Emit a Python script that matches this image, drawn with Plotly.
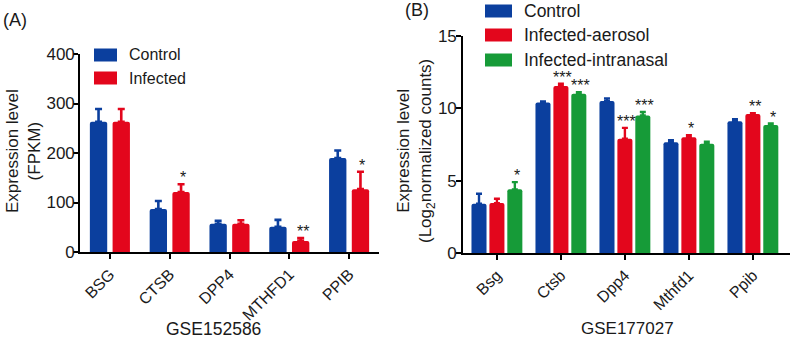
import plotly.graph_objects as go

W, H = 790, 339

# ---------------- data ----------------
genes_a = ["BSG", "CTSB", "DPP4", "MTHFD1", "PPIB"]
series_a = ["Control", "Infected"]
control_a = [263, 87, 57, 51, 190]
control_a_err = [26, 16, 6, 14, 15]
infected_a = [263, 121, 57, 22, 127]
infected_a_err = [26, 16, 7, 6, 35]
sig_a_control = ["", "", "", "", ""]
sig_a_infected = ["", "*", "", "**", "*"]
yticks_a = [0, 100, 200, 300, 400]

genes_b = ["Bsg", "Ctsb", "Dpp4", "Mthfd1", "Ppib"]
series_b = ["Control", "Infected-aerosol", "Infected-intranasal"]
control_b = [3.4, 10.4, 10.5, 7.65, 9.1]
control_b_err = [0.7, 0.08, 0.18, 0.15, 0.15]
aerosol_b = [3.45, 11.55, 7.9, 8.0, 9.6]
aerosol_b_err = [0.3, 0.15, 0.75, 0.15, 0.07]
intranasal_b = [4.4, 11.0, 9.5, 7.55, 8.85]
intranasal_b_err = [0.5, 0.12, 0.25, 0.15, 0.1]
sig_b_control = ["", "", "", "", ""]
sig_b_aerosol = ["", "***", "***", "*", "**"]
sig_b_intranasal = ["*", "***", "***", "", "*"]
yticks_b = [0, 5, 10, 15]

BLUE = "#0B3F9E"
RED = "#E3061C"
GREEN = "#169B38"
FONT = "Liberation Sans, Arial, sans-serif"
INK = "#1a1a1a"


def px_x(p):
    return p / W


def px_y(p):
    return 1 - p / H


fig = go.Figure()

# ---------------- panel A bars ----------------
a_specs = [
    (series_a[0], control_a, control_a_err, sig_a_control, BLUE, -0.19),
    (series_a[1], infected_a, infected_a_err, sig_a_infected, RED, 0.19),
]
wa = 0.29
for name, vals, errs, sigs, col, ctr in a_specs:
    fig.add_trace(go.Bar(
        x=list(range(len(genes_a))), y=vals, name=name,
        marker=dict(color=col, line=dict(width=0), cornerradius=2),
        width=wa, offset=ctr - wa / 2,
        error_y=dict(type="data", array=errs, arrayminus=[0] * len(errs),
                     symmetric=False, color=col, thickness=2.6, width=3.5),
        xaxis="x", yaxis="y", showlegend=False,
    ))

# ---------------- panel B bars ----------------
b_specs = [
    (series_b[0], control_b, control_b_err, sig_b_control, BLUE, -0.28),
    (series_b[1], aerosol_b, aerosol_b_err, sig_b_aerosol, RED, 0.0),
    (series_b[2], intranasal_b, intranasal_b_err, sig_b_intranasal, GREEN, 0.28),
]
wb = 0.235
for name, vals, errs, sigs, col, ctr in b_specs:
    fig.add_trace(go.Bar(
        x=list(range(len(genes_b))), y=vals, name=name,
        marker=dict(color=col, line=dict(width=0), cornerradius=2),
        width=wb, offset=ctr - wb / 2,
        error_y=dict(type="data", array=errs, arrayminus=[0] * len(errs),
                     symmetric=False, color=col, thickness=2.4, width=3),
        xaxis="x2", yaxis="y2", showlegend=False,
    ))

annotations = []
# significance stars
for specs, xref, yref in [(a_specs, "x", "y"), (b_specs, "x2", "y2")]:
    for name, vals, errs, sigs, col, ctr in specs:
        for i, s in enumerate(sigs):
            if s:
                annotations.append(dict(
                    x=i + ctr, y=vals[i] + errs[i], xref=xref, yref=yref,
                    text=s, showarrow=False, yanchor="bottom", xanchor="center",
                    yshift=-4, xshift=2,
                    font=dict(family=FONT, size=16, color=INK)))

axis_common = dict(showline=True, linecolor="black", linewidth=1.6,
                   ticks="outside", ticklen=5, tickwidth=1.6, tickcolor="black",
                   showgrid=False, zeroline=False, automargin=False)
yfont = dict(family=FONT, size=17, color=INK)
xfont = dict(family=FONT, size=16, color=INK)

fig.update_layout(
    width=W, height=H,
    margin=dict(l=0, r=0, t=0, b=0, pad=0),
    paper_bgcolor="white", plot_bgcolor="white",
    barmode="overlay",
    xaxis=dict(domain=[px_x(80), px_x(379)], range=[-0.5, 4.5],
               tickmode="array", tickvals=list(range(len(genes_a))),
               ticktext=genes_a, tickangle=-45, anchor="y", tickfont=xfont,
               **axis_common),
    yaxis=dict(domain=[px_y(252), px_y(54)], range=[0, 400],
               tickmode="array", tickvals=yticks_a, anchor="x", tickfont=yfont,
               ticklabelstandoff=-5, **axis_common),
    xaxis2=dict(domain=[px_x(463), 1.0], range=[-0.53, 4.58],
                tickmode="array", tickvals=list(range(len(genes_b))),
                ticktext=genes_b, tickangle=-45, anchor="y2", tickfont=xfont,
                **axis_common),
    yaxis2=dict(domain=[px_y(253), px_y(36)], range=[0, 15],
                tickmode="array", tickvals=yticks_b, anchor="x2", tickfont=yfont,
                ticklabelstandoff=-4, **axis_common),
)


def label(x, y, text, size, **kw):
    d = dict(x=px_x(x), y=px_y(y), xref="paper", yref="paper", text=text,
             showarrow=False, xanchor="center", yanchor="middle",
             font=dict(family=FONT, size=size, color=INK))
    d.update(kw)
    return d


# axis titles, panel labels
annotations += [
    label(24, 151, "Expression level<br>(FPKM)", 17, textangle=-90),
    label(416, 151, "Expression level<br>(Log<sub>2</sub>normalized counts)", 17,
          textangle=-90),
    label(213, 329, "GSE152586", 17.5),
    label(627, 328, "GSE177027", 17),
    label(1, 20, "(A)", 18, xanchor="left"),
    label(403, 10, "(B)", 18, xanchor="left"),
]

# custom legends (wide swatches as in the reference)
shapes = []
legend_a = [(series_a[0], BLUE), (series_a[1], RED)]
legend_b = [(series_b[0], BLUE), (series_b[1], RED), (series_b[2], GREEN)]
for items, sx0, sx1, tx, rows, fs in [
    (legend_a, 94, 117, 127, [55, 78], 16),
    (legend_b, 485, 512, 522, [11, 35, 60], 17.5),
]:
    for (name, col), ry in zip(items, rows):
        shapes.append(dict(type="rect", xref="paper", yref="paper",
                           x0=px_x(sx0), x1=px_x(sx1),
                           y0=px_y(ry + 6.5), y1=px_y(ry - 6.5),
                           fillcolor=col, line=dict(width=0)))
        annotations.append(label(tx, ry, name, fs, xanchor="left"))

fig.update_layout(annotations=annotations, shapes=shapes)
fig.write_html(
    "out.html",
    config={"displayModeBar": False},
    post_script="document.body.style.margin='0';document.body.style.overflow='hidden';",
)
